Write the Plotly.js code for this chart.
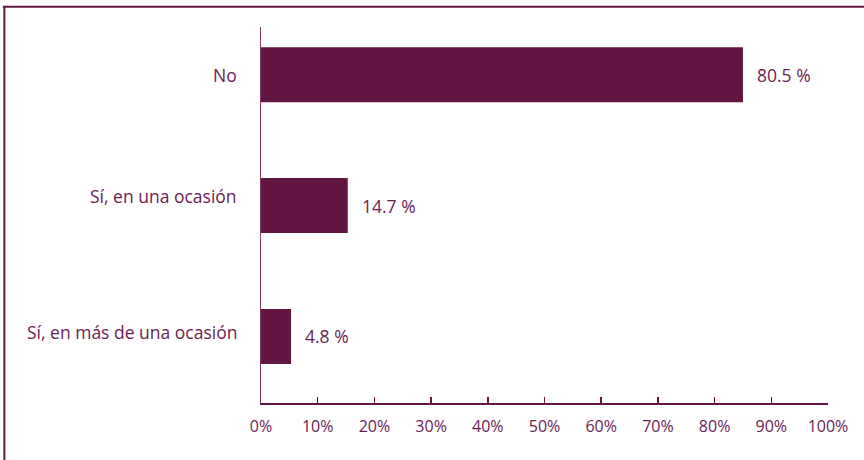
<!DOCTYPE html>
<html>
<head>
<meta charset="utf-8">
<script src="https://cdn.plot.ly/plotly-3.0.1.min.js"></script>
<style>html,body{margin:0;padding:0;background:#fff;}#chart{width:864px;height:460px;}</style>
</head>
<body>
<div id="chart"></div>
<script>
// Data
const categories = ["No", "Sí, en una ocasión", "Sí, en más de una ocasión"];
const barValues = [85.0, 15.3, 5.3];          // bar lengths as drawn (%)
const valueLabels = ["80.5 %", "14.7 %", "4.8 %"];
const tickValues = [0, 10, 20, 30, 40, 50, 60, 70, 80, 90, 100];
const tickLabels = ["0%", "10%", "20%", "30%", "40%", "50%", "60%", "70%", "80%", "90%", "100%"];

const W = 864, H = 460;
const M = {l: 261, r: 36.3, t: 26.7, b: 57};
const pw = W - M.l - M.r, ph = H - M.t - M.b;
const px = x => (x - M.l) / pw;
const py = y => (H - M.b - y) / ph;

const barColor = "#631542";
const textColor = "#6a2252";
const font = "Open Sans, Noto Sans, sans-serif";
const catLabelLift = [0, 10, 4];   // vertical offsets of category labels (px)

const trace = {
  type: "bar",
  orientation: "h",
  y: categories,
  x: barValues,
  marker: {color: barColor, line: {width: 0}},
  width: 0.42,
  hoverinfo: "none"
};

const valueAnn = categories.map((c, i) => ({
  x: barValues[i], y: c, xref: "x", yref: "y",
  text: valueLabels[i], showarrow: false,
  xanchor: "left", xshift: 12,
  font: {family: font, size: 17.5, color: textColor}
}));
const catAnn = categories.map((c, i) => ({
  x: 0, y: c, xref: "x", yref: "y",
  text: c, showarrow: false,
  xanchor: "right", xshift: -22, yshift: catLabelLift[i],
  font: {family: font, size: 17.5, color: textColor}
}));

const layout = {
  width: W, height: H,
  margin: M,
  paper_bgcolor: "#fff", plot_bgcolor: "#fff",
  showlegend: false,
  font: {family: font, size: 16, color: textColor},
  xaxis: {
    range: [0, 100], tickvals: tickValues, ticktext: tickLabels,
    showgrid: false, zeroline: false,
    showline: true, linecolor: barColor, linewidth: 1.5,
    ticks: "inside", ticklen: 6, tickcolor: barColor, tickwidth: 1.5,
    ticklabelstandoff: 8,
    tickfont: {family: font, size: 16, color: textColor},
    fixedrange: true
  },
  yaxis: {
    type: "category",
    range: [2.508, -0.364],
    showgrid: false, zeroline: false,
    showline: true, linecolor: "#7b3a66", linewidth: 1,
    ticks: "", showticklabels: false,
    fixedrange: true
  },
  annotations: valueAnn.concat(catAnn),
  shapes: [
    {type: "line", xref: "paper", yref: "paper", x0: px(3), x1: px(864), y0: py(6.5), y1: py(6.5),
     line: {color: barColor, width: 2}},
    {type: "line", xref: "paper", yref: "paper", x0: px(4.5), x1: px(4.5), y0: py(6.5), y1: py(460),
     line: {color: barColor, width: 2}}
  ]
};

Plotly.newPlot("chart", [trace], layout, {displayModeBar: false, staticPlot: true});
</script>
</body>
</html>
